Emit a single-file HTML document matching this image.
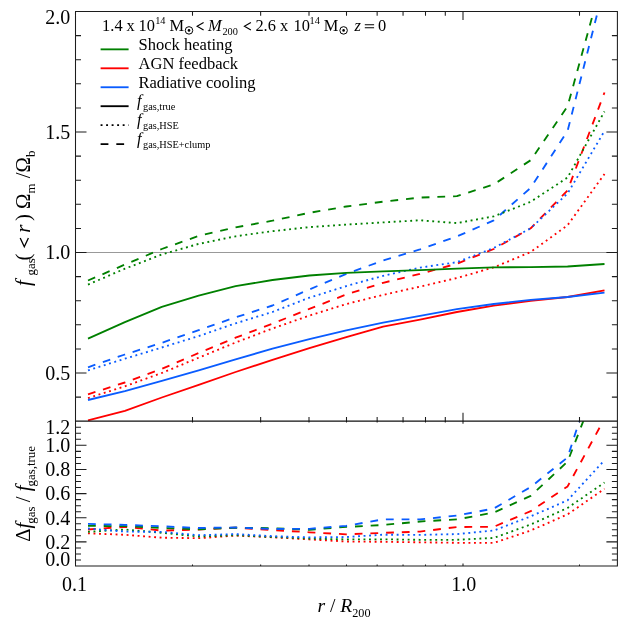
<!DOCTYPE html>
<html><head><meta charset="utf-8"><title>f_gas</title>
<style>html,body{margin:0;padding:0;background:#fff}svg{display:block;will-change:transform}text{font-family:"Liberation Serif",serif;fill:#000}.i{font-style:italic}</style></head><body>
<svg width="629" height="629" viewBox="0 0 629 629">
<rect width="629" height="629" fill="#fff"/>
<defs>
<clipPath id="ct"><rect x="75.5" y="11.5" width="541.9" height="409.7"/></clipPath>
<clipPath id="cb"><rect x="75.5" y="421.2" width="541.9" height="144.8"/></clipPath>
</defs>
<line x1="75.5" x2="617.4" y1="252.50" y2="252.50" stroke="#999" stroke-width="1"/>
<g clip-path="url(#ct)">
<polyline points="88.0,394.3 124.9,382.5 161.8,368.9 198.7,353.0 235.6,337.7 272.5,323.6 309.4,308.9 346.3,294.5 383.1,282.8 420.0,273.9 456.9,263.7 493.8,249.0 530.7,228.3 567.6,190.3 604.5,92.5" fill="none" stroke="#ff0000" stroke-width="1.85" stroke-linejoin="round" stroke-dasharray="7.8 7.92"/>
<polyline points="88.0,280.5 124.9,264.6 161.8,249.0 198.7,235.9 235.6,227.4 272.5,220.7 309.4,212.8 346.3,206.5 383.1,201.7 420.0,197.6 456.9,196.2 493.8,184.4 530.7,160.2 567.6,106.3 604.5,-28.0" fill="none" stroke="#008000" stroke-width="1.85" stroke-linejoin="round" stroke-dasharray="7.8 7.92"/>
<polyline points="88.0,367.3 124.9,354.5 161.8,342.8 198.7,330.1 235.6,317.3 272.5,305.5 309.4,289.4 346.3,273.9 383.1,260.5 420.0,249.4 456.9,236.4 493.8,220.4 530.7,187.8 567.6,130.8 604.5,-15.0" fill="none" stroke="#0a5cff" stroke-width="1.85" stroke-linejoin="round" stroke-dasharray="7.8 7.92"/>
<polyline points="88.0,398.1 124.9,386.3 161.8,373.0 198.7,357.7 235.6,342.5 272.5,328.5 309.4,315.6 346.3,304.0 383.1,294.9 420.0,286.6 456.9,278.0 493.8,267.4 530.7,252.0 567.6,225.2 604.5,174.0" fill="none" stroke="#ff0000" stroke-width="1.85" stroke-linejoin="round" stroke-dasharray="1.9 3.62"/>
<polyline points="88.0,284.6 124.9,268.7 161.8,254.4 198.7,243.9 235.6,236.3 272.5,231.2 309.4,227.1 346.3,224.6 383.1,222.4 420.0,220.3 456.9,223.1 493.8,216.3 530.7,201.8 567.6,177.5 604.5,111.5" fill="none" stroke="#008000" stroke-width="1.85" stroke-linejoin="round" stroke-dasharray="1.9 3.62"/>
<polyline points="88.0,370.4 124.9,358.7 161.8,347.5 198.7,336.1 235.6,323.3 272.5,312.0 309.4,297.7 346.3,286.1 383.1,275.8 420.0,267.6 456.9,262.2 493.8,247.9 530.7,228.3 567.6,193.4 604.5,131.0" fill="none" stroke="#0a5cff" stroke-width="1.85" stroke-linejoin="round" stroke-dasharray="1.9 3.62"/>
<polyline points="88.0,420.4 124.9,410.8 161.8,397.5 198.7,384.8 235.6,372.0 272.5,359.8 309.4,348.2 346.3,337.2 383.1,326.6 420.0,319.6 456.9,312.0 493.8,305.6 530.7,300.8 567.6,297.0 604.5,290.3" fill="none" stroke="#ff0000" stroke-width="1.85" stroke-linejoin="round"/>
<polyline points="88.0,338.6 124.9,322.1 161.8,306.9 198.7,295.7 235.6,286.2 272.5,280.0 309.4,275.5 346.3,272.9 383.1,271.3 420.0,270.1 456.9,268.7 493.8,267.4 530.7,267.1 567.6,266.5 604.5,264.0" fill="none" stroke="#008000" stroke-width="1.85" stroke-linejoin="round"/>
<polyline points="88.0,400.0 124.9,391.1 161.8,380.9 198.7,370.4 235.6,359.3 272.5,348.7 309.4,339.2 346.3,330.4 383.1,322.7 420.0,315.8 456.9,309.1 493.8,304.0 530.7,299.9 567.6,297.0 604.5,292.6" fill="none" stroke="#0a5cff" stroke-width="1.85" stroke-linejoin="round"/>
</g>
<g clip-path="url(#cb)">
<polyline points="88.0,529.5 124.9,526.8 161.8,530.6 198.7,529.5 235.6,527.7 272.5,530.0 309.4,532.3 346.3,534.3 383.1,532.9 420.0,531.6 456.9,527.0 493.8,526.8 530.7,511.2 567.6,486.4 604.5,418.6" fill="none" stroke="#ff0000" stroke-width="1.85" stroke-linejoin="round" stroke-dasharray="7.8 7.92"/>
<polyline points="88.0,525.8 124.9,526.2 161.8,527.9 198.7,529.3 235.6,527.7 272.5,528.2 309.4,529.8 346.3,526.9 383.1,525.0 420.0,521.5 456.9,519.4 493.8,512.6 530.7,495.9 567.6,461.6 604.5,366.4" fill="none" stroke="#008000" stroke-width="1.85" stroke-linejoin="round" stroke-dasharray="7.8 7.92"/>
<polyline points="88.0,523.9 124.9,524.9 161.8,526.3 198.7,528.0 235.6,527.5 272.5,529.0 309.4,528.8 346.3,525.8 383.1,519.4 420.0,519.4 456.9,515.6 493.8,508.5 530.7,487.0 567.6,457.4 604.5,343.0" fill="none" stroke="#0a5cff" stroke-width="1.85" stroke-linejoin="round" stroke-dasharray="7.8 7.92"/>
<polyline points="88.0,533.3 124.9,534.8 161.8,537.7 198.7,538.2 235.6,535.6 272.5,537.3 309.4,539.4 346.3,541.5 383.1,541.8 420.0,542.3 456.9,542.8 493.8,542.9 530.7,530.5 567.6,514.4 604.5,488.8" fill="none" stroke="#ff0000" stroke-width="1.85" stroke-linejoin="round" stroke-dasharray="1.9 3.62"/>
<polyline points="88.0,531.8 124.9,529.5 161.8,532.8 198.7,536.5 235.6,535.3 272.5,537.0 309.4,538.6 346.3,539.4 383.1,539.3 420.0,539.8 456.9,539.8 493.8,537.9 530.7,524.5 567.6,507.9 604.5,482.6" fill="none" stroke="#008000" stroke-width="1.85" stroke-linejoin="round" stroke-dasharray="1.9 3.62"/>
<polyline points="88.0,528.5 124.9,531.6 161.8,531.9 198.7,535.2 235.6,534.1 272.5,536.2 309.4,537.4 346.3,537.0 383.1,534.7 420.0,534.9 456.9,534.1 493.8,530.5 530.7,516.4 567.6,500.3 604.5,460.2" fill="none" stroke="#0a5cff" stroke-width="1.85" stroke-linejoin="round" stroke-dasharray="1.9 3.62"/>
</g>
<path d="M75.5,11.5H617.4V566.0H75.5ZM75.5,397.10h5.5M617.4,397.10h-5.5M75.5,373.00h11.0M617.4,373.00h-11.0M75.5,348.90h5.5M617.4,348.90h-5.5M75.5,324.80h5.5M617.4,324.80h-5.5M75.5,300.70h5.5M617.4,300.70h-5.5M75.5,276.60h5.5M617.4,276.60h-5.5M75.5,252.50h11.0M617.4,252.50h-11.0M75.5,228.40h5.5M617.4,228.40h-5.5M75.5,204.30h5.5M617.4,204.30h-5.5M75.5,180.20h5.5M617.4,180.20h-5.5M75.5,156.10h5.5M617.4,156.10h-5.5M75.5,132.00h11.0M617.4,132.00h-11.0M75.5,107.90h5.5M617.4,107.90h-5.5M75.5,83.80h5.5M617.4,83.80h-5.5M75.5,59.70h5.5M617.4,59.70h-5.5M75.5,35.60h5.5M617.4,35.60h-5.5M75.5,559.97h5.5M617.4,559.97h-5.5M75.5,553.93h5.5M617.4,553.93h-5.5M75.5,547.90h5.5M617.4,547.90h-5.5M75.5,541.87h11.0M617.4,541.87h-11.0M75.5,535.83h5.5M617.4,535.83h-5.5M75.5,529.80h5.5M617.4,529.80h-5.5M75.5,523.77h5.5M617.4,523.77h-5.5M75.5,517.73h11.0M617.4,517.73h-11.0M75.5,511.70h5.5M617.4,511.70h-5.5M75.5,505.67h5.5M617.4,505.67h-5.5M75.5,499.63h5.5M617.4,499.63h-5.5M75.5,493.60h11.0M617.4,493.60h-11.0M75.5,487.57h5.5M617.4,487.57h-5.5M75.5,481.53h5.5M617.4,481.53h-5.5M75.5,475.50h5.5M617.4,475.50h-5.5M75.5,469.47h11.0M617.4,469.47h-11.0M75.5,463.43h5.5M617.4,463.43h-5.5M75.5,457.40h5.5M617.4,457.40h-5.5M75.5,451.37h5.5M617.4,451.37h-5.5M75.5,445.33h11.0M617.4,445.33h-11.0M75.5,439.30h5.5M617.4,439.30h-5.5M75.5,433.27h5.5M617.4,433.27h-5.5M75.5,427.23h5.5M617.4,427.23h-5.5M192.50,11.5v4.2M192.50,417.0V422.59999999999997M192.50,566.0v-1.4M260.65,11.5v4.2M260.65,417.0V422.59999999999997M260.65,566.0v-1.4M309.00,11.5v4.2M309.00,417.0V422.59999999999997M309.00,566.0v-1.4M346.50,11.5v4.2M346.50,417.0V422.59999999999997M346.50,566.0v-1.4M377.14,11.5v4.2M377.14,417.0V422.59999999999997M377.14,566.0v-1.4M403.05,11.5v4.2M403.05,417.0V422.59999999999997M403.05,566.0v-1.4M425.50,11.5v4.2M425.50,417.0V422.59999999999997M425.50,566.0v-1.4M445.29,11.5v4.2M445.29,417.0V422.59999999999997M445.29,566.0v-1.4M463.00,11.5v8.4M463.00,412.8V423.8M463.00,566.0v-2.6M579.50,11.5v4.2M579.50,417.0V422.59999999999997M579.50,566.0v-1.4" fill="none" stroke="#1c1c1c" stroke-width="1.05"/>
<line x1="75.5" x2="617.4" y1="421.15" y2="421.15" stroke="#111" stroke-width="1.25"/>
<text x="70.2" y="24.3" font-size="20.0" text-anchor="end">2.0</text>
<text x="70.2" y="138.8" font-size="20.0" text-anchor="end">1.5</text>
<text x="70.2" y="259.3" font-size="20.0" text-anchor="end">1.0</text>
<text x="70.2" y="379.8" font-size="20.0" text-anchor="end">0.5</text>
<text x="70.2" y="433.5" font-size="20.0" text-anchor="end">1.2</text>
<text x="70.2" y="452.1" font-size="20.0" text-anchor="end">1.0</text>
<text x="70.2" y="476.3" font-size="20.0" text-anchor="end">0.8</text>
<text x="70.2" y="500.4" font-size="20.0" text-anchor="end">0.6</text>
<text x="70.2" y="524.5" font-size="20.0" text-anchor="end">0.4</text>
<text x="70.2" y="548.7" font-size="20.0" text-anchor="end">0.2</text>
<text x="70.2" y="566.4" font-size="20.0" text-anchor="end">0.0</text>
<text x="74.6" y="590.9" font-size="20.0" text-anchor="middle">0.1</text>
<text x="463.7" y="590.9" font-size="20.0" text-anchor="middle">1.0</text>
<text x="317.4" y="612.4" font-size="19.6"><tspan class="i">r</tspan> / <tspan class="i">R</tspan><tspan font-size="12.2" dy="4.4">200</tspan></text>
<text transform="translate(29.8,286) rotate(-90)" font-size="20.8"><tspan class="i">f</tspan><tspan font-size="12.9" dy="5.2" dx="4.8">gas</tspan><tspan dy="-5.2" dx="-2.3">(</tspan><tspan class="i" dx="20.8">r</tspan><tspan dx="-1.5"> ) Ω</tspan><tspan font-size="12.9" dy="5.2">m</tspan><tspan dy="-5.2"> /Ω</tspan><tspan font-size="12.9" dy="5.2">b</tspan></text>
<polyline points="20.2,237.9 24.3,246.7 28.4,237.9" fill="none" stroke="#000" stroke-width="1.3"/>
<text transform="translate(29.8,541.8) rotate(-90)" font-size="20.8">Δ<tspan class="i">f</tspan><tspan font-size="12.9" dy="5.2" dx="-1">gas</tspan><tspan dy="-5.2" dx="-1"> / </tspan><tspan class="i">f</tspan><tspan font-size="12.9" dy="5.2" dx="-1">gas,true</tspan></text>
<text x="102.1" y="31.0" font-size="16.4">1.4</text>
<text x="126.4" y="31.0" font-size="16.4">x</text>
<text x="138.6" y="31.0" font-size="16.4">10</text>
<text x="155.2" y="23.8" font-size="10.3">14</text>
<text x="169.6" y="31.0" font-size="16.4">M</text>
<text x="208.1" y="31.0" font-size="16.4" class="i">M</text>
<text x="222.4" y="35.1" font-size="10.3">200</text>
<text x="255.4" y="31.0" font-size="16.4">2.6 x</text>
<text x="293.5" y="31.0" font-size="16.4">10</text>
<text x="309.6" y="23.8" font-size="10.3">14</text>
<text x="323.8" y="31.0" font-size="16.4">M</text>
<text x="354.4" y="31.0" font-size="16.4" class="i">z</text>
<path d="M364.8,24.7h9.3M364.8,27.7h9.3" stroke="#000" stroke-width="1.1" fill="none"/>
<text x="378.0" y="31.0" font-size="16.4">0</text>
<circle cx="189.0" cy="30.4" r="3.75" fill="none" stroke="#000" stroke-width="1.0"/><circle cx="189.0" cy="30.4" r="1.3" fill="#000"/>
<circle cx="343.6" cy="30.4" r="3.75" fill="none" stroke="#000" stroke-width="1.0"/><circle cx="343.6" cy="30.4" r="1.3" fill="#000"/>
<polyline points="203.6,22.6 197.1,26.3 203.6,30.0" fill="none" stroke="#000" stroke-width="1.1" stroke-linejoin="miter"/>
<polyline points="250.9,22.6 244.4,26.3 250.9,30.0" fill="none" stroke="#000" stroke-width="1.1" stroke-linejoin="miter"/>
<line x1="100.6" x2="128.6" y1="49.35" y2="49.35" stroke="#008000" stroke-width="1.85"/>
<text x="138.5" y="49.65" font-size="16.55">Shock heating</text>
<line x1="100.6" x2="128.6" y1="68.3" y2="68.3" stroke="#ff0000" stroke-width="1.85"/>
<text x="138.5" y="68.6" font-size="16.55">AGN feedback</text>
<line x1="100.6" x2="128.6" y1="87.25" y2="87.25" stroke="#0a5cff" stroke-width="1.85"/>
<text x="138.5" y="87.55" font-size="16.55">Radiative cooling</text>
<line x1="100.6" x2="128.6" y1="106.2" y2="106.2" stroke="#000" stroke-width="1.85"/>
<text x="137.0" y="106.2" font-size="16.4" class="i">f</text>
<text x="143.0" y="109.60000000000001" font-size="10.3">gas,true</text>
<line x1="100.6" x2="128.6" y1="125.15" y2="125.15" stroke="#000" stroke-width="1.85" stroke-dasharray="1.9 3.62"/>
<text x="137.0" y="125.15" font-size="16.4" class="i">f</text>
<text x="143.0" y="128.55" font-size="10.3">gas,HSE</text>
<line x1="100.6" x2="128.6" y1="144.1" y2="144.1" stroke="#000" stroke-width="1.85" stroke-dasharray="7.8 7.92"/>
<text x="137.0" y="144.1" font-size="16.4" class="i">f</text>
<text x="143.0" y="147.5" font-size="10.3">gas,HSE+clump</text>
</svg></body></html>
